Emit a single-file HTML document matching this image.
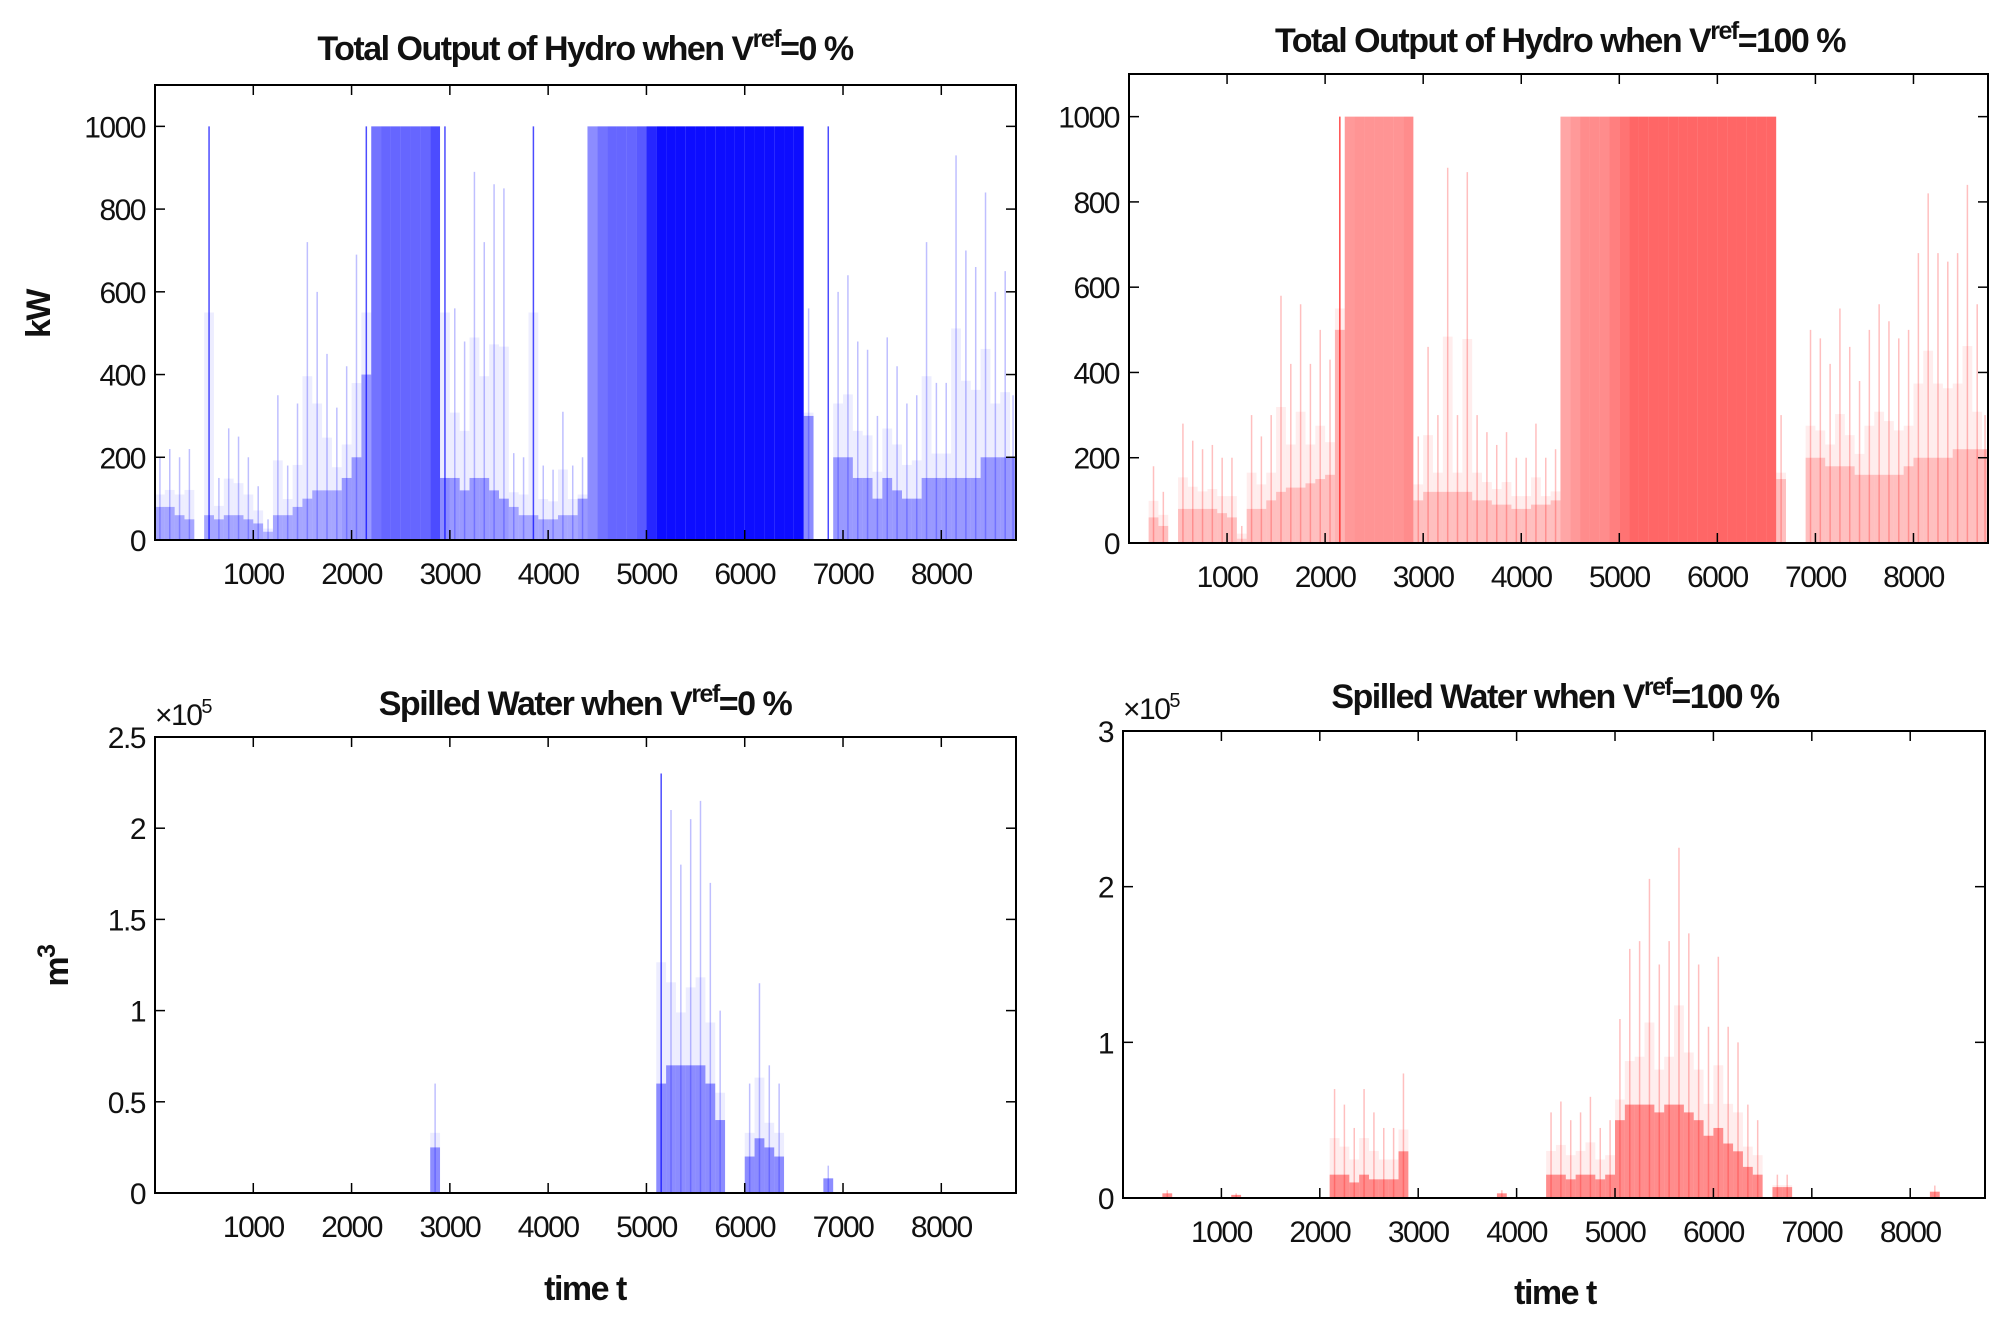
<!DOCTYPE html>
<html><head><meta charset="utf-8"><style>
body{margin:0;background:#fff}
svg{display:block;font-family:"Liberation Sans",Arial,sans-serif}
.tk{font-size:30px;fill:#111;letter-spacing:-1.5px}
.tt{font-size:34px;font-weight:bold;fill:#111;letter-spacing:-1.5px}
</style></head><body>
<svg id="c" width="2011" height="1328" viewBox="0 0 2011 1328" xmlns="http://www.w3.org/2000/svg"></svg>
<script>
// bin start hours (100 h bins)
const binsHours = Array.from({length:88},(_, i)=>i*100);
const xTickValues = [1000,2000,3000,4000,5000,6000,7000,8000];
// Top-left: output (kW), Vref=0
const peakA = [200,220,200,220,0,1000,150,270,250,200,130,50,350,180,330,720,600,450,320,420,690,1000,1000,1000,1000,1000,1000,1000,1000,1000,560,480,890,720,860,850,210,200,1000,180,170,310,180,200,1000,1000,1000,1000,1000,1000,1000,1000,1000,1000,1000,1000,1000,1000,1000,1000,1000,1000,1000,1000,1000,1000,560,0,1000,600,640,480,460,300,490,420,330,350,720,380,380,930,700,660,840,600,650,350];
const denseA = [80,80,60,50,0,60,50,60,60,50,40,20,60,60,80,100,120,120,120,150,200,400,1000,1000,1000,1000,1000,1000,1000,150,150,120,150,150,120,100,80,60,60,50,50,60,60,100,1000,1000,1000,1000,1000,1000,1000,1000,1000,1000,1000,1000,1000,1000,1000,1000,1000,1000,1000,1000,1000,1000,300,0,0,200,200,150,150,100,150,120,100,100,150,150,150,150,150,150,200,200,200,200];
const shadeA = [.35,.35,.35,.35,0,.35,.35,.35,.35,.35,.35,.3,.35,.35,.35,.35,.35,.35,.35,.4,.4,.4,.55,.6,.6,.6,.6,.6,.7,.45,.4,.4,.4,.4,.4,.4,.35,.35,.35,.35,.35,.35,.35,.4,.45,.55,.6,.6,.6,.65,.85,.95,.95,.95,.95,.95,.95,.95,.95,.95,.95,.95,.95,.95,.95,.95,.45,0,0,.4,.4,.4,.4,.4,.4,.4,.4,.4,.4,.4,.4,.4,.4,.4,.4,.4,.4,.4];
// Top-right: output (kW), Vref=100
const peakB = [0,0,180,120,0,280,240,220,230,200,200,40,300,250,300,580,420,560,420,500,430,1000,1000,1000,1000,1000,1000,1000,1000,250,460,300,880,300,870,300,260,230,260,200,200,280,200,220,1000,1000,1000,1000,1000,1000,1000,1000,1000,1000,1000,1000,1000,1000,1000,1000,1000,1000,1000,1000,1000,1000,300,0,0,500,480,420,550,460,380,500,560,520,480,500,680,820,680,660,680,840,560,300];
const denseB = [0,0,60,40,0,80,80,80,80,70,60,10,80,80,100,120,130,130,140,150,160,500,1000,1000,1000,1000,1000,1000,1000,100,120,120,120,120,120,100,100,90,90,80,80,90,90,100,1000,1000,1000,1000,1000,1000,1000,1000,1000,1000,1000,1000,1000,1000,1000,1000,1000,1000,1000,1000,1000,1000,150,0,0,200,200,180,180,180,160,160,160,160,160,180,200,200,200,200,220,220,220,220];
const shadeB = [0,0,.25,.25,0,.25,.25,.25,.25,.25,.25,.2,.25,.25,.25,.25,.25,.25,.25,.25,.25,.3,.4,.42,.42,.42,.42,.42,.45,.25,.25,.25,.25,.25,.25,.25,.25,.25,.25,.25,.25,.25,.25,.25,.35,.4,.45,.45,.45,.5,.55,.6,.6,.6,.6,.6,.6,.6,.6,.6,.6,.6,.6,.6,.6,.6,.25,0,0,.25,.25,.25,.25,.25,.25,.25,.25,.25,.25,.25,.25,.25,.25,.25,.25,.25,.25,.25];
// Bottom-left: spilled water (x1e5 m3), Vref=0
const peakC = [0,0,0,0,0,0,0,0,0,0,0,0,0,0,0,0,0,0,0,0,0,0,0,0,0,0,0,0,.6,0,0,0,0,0,0,0,0,0,0,0,0,0,0,0,0,0,0,0,0,0,0,2.3,2.1,1.8,2.05,2.15,1.7,1.0,0,0,.6,1.15,.7,.6,0,0,0,0,.15,0,0,0,0,0,0,0,0,0,0,0,0,0,0,0,0,0,0,0];
const denseC = [0,0,0,0,0,0,0,0,0,0,0,0,0,0,0,0,0,0,0,0,0,0,0,0,0,0,0,0,.25,0,0,0,0,0,0,0,0,0,0,0,0,0,0,0,0,0,0,0,0,0,0,.6,.7,.7,.7,.7,.6,.4,0,0,.2,.3,.25,.2,0,0,0,0,.08,0,0,0,0,0,0,0,0,0,0,0,0,0,0,0,0,0,0,0];
// Bottom-right: spilled water (x1e5 m3), Vref=100
const peakD = [0,0,0,0,.05,0,0,0,0,0,0,.03,0,0,0,0,0,0,0,0,0,.7,.6,.45,.7,.55,.45,.45,.8,0,0,0,0,0,0,0,0,0,.05,0,0,0,0,.55,.62,.5,.55,.65,.45,.5,1.15,1.6,1.65,2.05,1.5,1.65,2.25,1.7,1.5,1.1,1.55,1.1,1.0,.6,.5,0,.15,.15,0,0,0,0,0,0,0,0,0,0,0,0,0,0,.08,0,0,0,0,0];
const denseD = [0,0,0,0,.03,0,0,0,0,0,0,.02,0,0,0,0,0,0,0,0,0,.15,.15,.1,.15,.12,.12,.12,.3,0,0,0,0,0,0,0,0,0,.03,0,0,0,0,.15,.15,.12,.15,.15,.12,.15,.5,.6,.6,.6,.55,.6,.6,.55,.5,.4,.45,.35,.3,.2,.15,0,.07,.07,0,0,0,0,0,0,0,0,0,0,0,0,0,0,.04,0,0,0,0,0];
const yTicksA = [0,200,400,600,800,1000];
const yTicksC = [0,0.5,1,1.5,2,2.5];
const yTicksD = [0,1,2,3];

const NS='http://www.w3.org/2000/svg';
const svg=document.getElementById('c');
function mk(tag,attrs,parent){const e=document.createElementNS(NS,tag);for(const k in attrs)e.setAttribute(k,attrs[k]);(parent||svg).appendChild(e);return e;}

function panel(cfg){
  const g=mk('g',{});
  
  
  const L=cfg.L,R=cfg.R,T=cfg.T,B=cfg.B;
  const xs=t=>L+(t/8760)*(R-L);
  const ys=v=>B-(v/cfg.ymax)*(B-T);
  for(let i=0;i<binsHours.length;i++){
    const x0=xs(binsHours[i]), x1=xs(Math.min(binsHours[i]+100,8760));
    const p=cfg.peak[i], d=cfg.dense[i], s=cfg.shade?cfg.shade[i]:0.45;
    if(d>0){
      const r=mk('rect',{x:x0,y:ys(d),width:x1-x0,height:B-ys(d),fill:cfg.color,'fill-opacity':s},g);
      
      
      if(d<p*0.9){
        const r2=mk('rect',{x:x0,y:ys(p*0.55),width:x1-x0,height:ys(d)-ys(p*0.55),fill:cfg.color,'fill-opacity':0.07},g);
        
        
      }
    }
    if(p>0 && d<p){
      const ln=mk('line',{x1:(x0+x1)/2,x2:(x0+x1)/2,y1:ys(p),y2:B,stroke:cfg.color,'stroke-width':1.5,'stroke-opacity':p>=cfg.ymax*0.9?0.7:0.25},g);
      
      
    }
  }
  const box=mk('rect',{x:L,y:T,width:R-L,height:B-T,fill:'none',stroke:'#000','stroke-width':2},g);
  
  
  xTickValues.forEach(v=>{
    const x=xs(v);
    mk('line',{x1:x,x2:x,y1:B,y2:B-10,stroke:'#000','stroke-width':1.5},g);
    mk('line',{x1:x,x2:x,y1:T,y2:T+10,stroke:'#000','stroke-width':1.5},g);
    const t=mk('text',{x:x,y:B+44,'text-anchor':'middle',class:'tk'},g);
    
    
    t.textContent=v;
  });
  cfg.yt.forEach(v=>{
    const y=ys(v);
    mk('line',{x1:L,x2:L+10,y1:y,y2:y,stroke:'#000','stroke-width':1.5},g);
    mk('line',{x1:R,x2:R-10,y1:y,y2:y,stroke:'#000','stroke-width':1.5},g);
    const t=mk('text',{x:L-10,y:y+11,'text-anchor':'end',class:'tk'},g);
    
    
    t.textContent=v;
  });
  const tt=mk('text',{x:cfg.tx,y:cfg.ty,'text-anchor':'middle',class:'tt'},g);
  
  
  tt.innerHTML=cfg.title+' V<tspan dy="-13" font-size="25">ref</tspan><tspan dy="13">'+cfg.tail+'</tspan>';
  if(cfg.exp){
    const e=mk('text',{x:L,y:T-12,class:'tk','font-size':'28'},g);
    
    
    e.innerHTML='×10<tspan dy="-12" font-size="20">5</tspan>';
  }
}
panel({name:'hydro-output-vref0',L:155,R:1016,T:85,B:540,ymax:1100,peak:peakA,dense:denseA,shade:shadeA,color:'#0000ff',yt:yTicksA,title:'Total Output of Hydro when',tail:'=0 %',tx:585,ty:60});
panel({name:'hydro-output-vref100',L:1129,R:1988,T:74,B:543,ymax:1100,peak:peakB,dense:denseB,shade:shadeB,color:'#ff0000',yt:yTicksA,title:'Total Output of Hydro when',tail:'=100 %',tx:1560,ty:52});
panel({name:'spilled-water-vref0',L:155,R:1016,T:737,B:1193,ymax:2.5,peak:peakC,dense:denseC,color:'#0000ff',yt:yTicksC,title:'Spilled Water when',tail:'=0 %',tx:585,ty:715,exp:true});
panel({name:'spilled-water-vref100',L:1123,R:1985,T:731,B:1198,ymax:3,peak:peakD,dense:denseD,color:'#ff0000',yt:yTicksD,title:'Spilled Water when',tail:'=100 %',tx:1555,ty:708,exp:true});

function lab(txt,x,y,rot,name){
  const t=mk('text',{x:x,y:y,'text-anchor':'middle',class:'tt',transform:rot?`rotate(-90 ${x} ${y})`:''});
  
  
  t.innerHTML=txt;
}
lab('kW',50,314,true,'y-axis-title-kw');
lab('m<tspan dy="-13" font-size="25">3</tspan>',68,966,true,'y-axis-title-m3');
lab('time t',585,1300,false,'x-axis-title-left');
lab('time t',1555,1304,false,'x-axis-title-right');
</script>
</body></html>
